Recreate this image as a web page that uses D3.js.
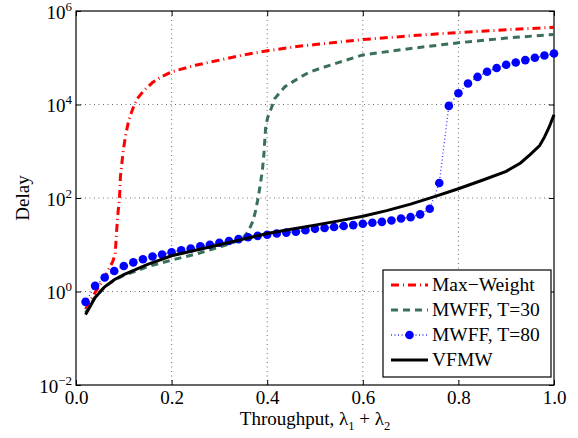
<!DOCTYPE html>
<html>
<head>
<meta charset="utf-8">
<script src="https://cdn.jsdelivr.net/npm/d3@7"></script>
<style>
  body { margin: 0; background: #fff; }
  svg text { font-family: "Liberation Serif", "DejaVu Serif", serif !important; }
</style>
</head>
<body>
<div id="delay_plot"></div>
<script>
// axis ticks
var xTicks = [0, 0.2, 0.4, 0.6, 0.8, 1.0]
var yTicks = [1e-2, 1, 1e2, 1e4, 1e6]
var yTickExp = ["\u22122", "0", "2", "4", "6"]

var seriesNames = ["Max\u2212Weight", "MWFF, T=30", "MWFF, T=80", "VFMW"]

// Max-Weight
var maxWeightX = [0.02, 0.04, 0.06, 0.07, 0.077, 0.082, 0.085, 0.088, 0.091, 0.093, 0.096, 0.099,
  0.104, 0.109, 0.115, 0.122, 0.13, 0.143, 0.16, 0.18, 0.2, 0.25, 0.3, 0.35, 0.4, 0.47, 0.5,
  0.6, 0.7, 0.8, 0.9, 1.0]
var maxWeightY = [0.42, 0.95, 2.0, 3.2, 4.4, 6.3, 20, 50, 100, 290, 560, 1070,
  2240, 3980, 6310, 10000, 14100, 20400, 29500, 39800, 50100, 69200, 89100, 115000, 141000, 178000, 191000,
  245000, 295000, 347000, 398000, 447000]

// MWFF, T=30
var mwff30X = [0.02, 0.04, 0.06, 0.08, 0.1, 0.15, 0.2, 0.25, 0.3, 0.33, 0.35, 0.36, 0.37, 0.375,
  0.38, 0.385, 0.39, 0.393, 0.395, 0.397, 0.401, 0.406, 0.416, 0.437, 0.465, 0.486, 0.51, 0.55,
  0.6, 0.7, 0.8, 0.9, 1.0]
var mwff30Y = [0.35, 0.76, 1.26, 1.74, 2.2, 3.4, 4.7, 6.3, 8.9, 11.2, 14.1, 19, 31.6, 50,
  89, 178, 398, 832, 1740, 3470, 5250, 7080, 13500, 24000, 36300, 47900, 58900, 79400,
  115000, 158000, 209000, 263000, 316000]

// MWFF, T=80 (one marker per point)
var mwff80X = [0.02, 0.04, 0.06, 0.08, 0.10, 0.12, 0.14, 0.16, 0.18, 0.20, 0.22, 0.24, 0.26, 0.28,
  0.30, 0.32, 0.34, 0.36, 0.38, 0.40, 0.42, 0.44, 0.46, 0.48, 0.50, 0.52, 0.54, 0.56, 0.58,
  0.60, 0.62, 0.64, 0.66, 0.68, 0.70, 0.72, 0.74, 0.76, 0.78, 0.80, 0.82, 0.84, 0.86, 0.88,
  0.90, 0.92, 0.94, 0.96, 0.98, 1.00]
var mwff80Y = [0.60, 1.32, 2.0, 2.75, 3.5, 4.2, 4.9, 5.6, 6.2, 6.9, 7.6, 8.3, 9.3, 10,
  11, 12, 13.2, 14.5, 15.5, 16.4, 17.4, 18.2, 19, 20.4, 21.9, 22.9, 24, 25.1, 26.3,
  28.2, 29.5, 30.9, 33.1, 36.3, 38.9, 44.7, 58.9, 209, 9330, 17400, 28200, 38900, 50100, 60300,
  70800, 79400, 89100, 100000, 112000, 123000]

// VFMW
var vfmwX = [0.02, 0.04, 0.06, 0.08, 0.10, 0.15, 0.2, 0.25, 0.3, 0.35, 0.4, 0.45, 0.5, 0.55,
  0.6, 0.65, 0.7, 0.75, 0.8, 0.85, 0.9, 0.93, 0.95, 0.97, 0.98, 0.99, 1.0]
var vfmwY = [0.32, 0.74, 1.26, 1.78, 2.3, 3.8, 5.8, 7.6, 10, 13.2, 17.4, 21.4, 26.3, 32.4,
  40.7, 53.7, 74.1, 107, 158, 240, 372, 562, 851, 1320, 2000, 3310, 6030]

function zip(xs, ys) {
  return xs.map(function (v, i) { return [v, ys[i]] })
}

var series = [
  { name: seriesNames[0], data: zip(maxWeightX, maxWeightY), color: "#ff0000", width: 3, dash: "8,4,1,4" },
  { name: seriesNames[1], data: zip(mwff30X, mwff30Y), color: "#3b7058", width: 3, dash: "7,5" },
  { name: seriesNames[2], data: zip(mwff80X, mwff80Y), color: "#3434ff", width: 1.3, dash: "1,2.5", marker: "#0000ff" },
  { name: seriesNames[3], data: zip(vfmwX, vfmwY), color: "#000000", width: 3, dash: null }
]

var margin = { top: 11, right: 24, bottom: 53, left: 76 },
  width = 578 - margin.left - margin.right,
  height = 438 - margin.top - margin.bottom

var svg = d3
  .select("#delay_plot")
  .append("svg")
  .attr("width", width + margin.left + margin.right)
  .attr("height", height + margin.top + margin.bottom)
  .append("g")
  .attr("transform", "translate(" + margin.left + "," + margin.top + ")")

var x = d3.scaleLinear().domain([0, 1]).range([0, width])
var y = d3.scaleLog().domain([1e-2, 1e6]).range([height, 0])

// dotted grid at the inner ticks
var grid = svg.append("g").attr("class", "grid")
grid.selectAll(".gx")
  .data(xTicks.slice(1, -1))
  .enter()
  .append("line")
  .attr("x1", function (d) { return x(d) })
  .attr("x2", function (d) { return x(d) })
  .attr("y1", 0)
  .attr("y2", height)
grid.selectAll(".gy")
  .data(yTicks.slice(1, -1))
  .enter()
  .append("line")
  .attr("x1", 0)
  .attr("x2", width)
  .attr("y1", function (d) { return y(d) })
  .attr("y2", function (d) { return y(d) })
grid.selectAll("line")
  .attr("stroke", "#444")
  .attr("stroke-width", 0.8)
  .attr("stroke-dasharray", "1,3.5")

// axes with inward ticks on all sides
var xAxis = svg.append("g")
  .attr("transform", "translate(0," + height + ")")
  .call(d3.axisBottom(x).tickValues(xTicks).tickSize(-5).tickSizeOuter(0).tickPadding(6)
    .tickFormat(d3.format(".1f")))
xAxis.selectAll("text").attr("font-size", 19).attr("fill", "#000")

svg.append("g")
  .call(d3.axisTop(x).tickValues(xTicks).tickSize(-5).tickSizeOuter(0).tickFormat(""))
svg.append("g")
  .attr("transform", "translate(" + width + ",0)")
  .call(d3.axisRight(y).tickValues(yTicks).tickSize(-5).tickSizeOuter(0).tickFormat(""))

var yAxis = svg.append("g")
  .call(d3.axisLeft(y).tickValues(yTicks).tickSize(-5).tickSizeOuter(0).tickPadding(4).tickFormat(""))
yAxis.selectAll(".tick text").each(function (d, i) {
  var t = d3.select(this)
    .attr("font-size", 19)
    .attr("fill", "#000")
    .attr("dy", "0.38em")
    .attr("x", -4)
  t.append("tspan").text("10")
  t.append("tspan").attr("font-size", 13).attr("dy", -8).text(yTickExp[i])
})

svg.selectAll(".domain").remove()
svg.selectAll(".tick line").attr("stroke", "#000").attr("stroke-width", 1)

// plot frame
svg.append("rect")
  .attr("width", width)
  .attr("height", height)
  .attr("fill", "none")
  .attr("stroke", "#000")
  .attr("stroke-width", 1.2)

// lines
var line = d3.line()
  .x(function (d) { return x(d[0]) })
  .y(function (d) { return y(d[1]) })

series.forEach(function (s) {
  svg.append("path")
    .datum(s.data)
    .attr("fill", "none")
    .attr("stroke", s.color)
    .attr("stroke-width", s.width)
    .attr("stroke-dasharray", s.dash)
    .attr("d", line)
  if (s.marker) {
    svg.selectAll(".mk")
      .data(s.data)
      .enter()
      .append("circle")
      .attr("cx", function (d) { return x(d[0]) })
      .attr("cy", function (d) { return y(d[1]) })
      .attr("r", 4.3)
      .attr("fill", s.marker)
  }
})

// legend
var lg = svg.append("g")
  .attr("transform", "translate(" + (width - 171) + "," + (height - 115) + ")")
lg.append("rect")
  .attr("width", 168)
  .attr("height", 107)
  .attr("fill", "#fff")
  .attr("stroke", "#000")
  .attr("stroke-width", 1.2)

series.forEach(function (s, i) {
  var ly = 15 + i * 25
  lg.append("line")
    .attr("x1", 8).attr("x2", 45)
    .attr("y1", ly).attr("y2", ly)
    .attr("stroke", s.color)
    .attr("stroke-width", s.width)
    .attr("stroke-dasharray", s.dash)
  if (s.marker) {
    lg.append("circle").attr("cx", 26.5).attr("cy", ly).attr("r", 4.3).attr("fill", s.marker)
  }
  lg.append("text")
    .attr("x", 49)
    .attr("y", ly + 6)
    .attr("font-size", 19.5)
    .text(s.name)
})

// axis labels
var xl = svg.append("text")
  .attr("x", width / 2)
  .attr("y", height + 40)
  .attr("text-anchor", "middle")
  .attr("font-size", 19)
xl.append("tspan").text("Throughput, \u03bb")
xl.append("tspan").attr("font-size", 12.5).attr("dy", 5).text("1")
xl.append("tspan").attr("dy", -5).text(" + \u03bb")
xl.append("tspan").attr("font-size", 12.5).attr("dy", 5).text("2")

svg.append("text")
  .attr("transform", "translate(" + (29 - margin.left) + "," + height / 2 + ") rotate(-90)")
  .attr("text-anchor", "middle")
  .attr("font-size", 19)
  .text("Delay")
</script>
</body>
</html>
